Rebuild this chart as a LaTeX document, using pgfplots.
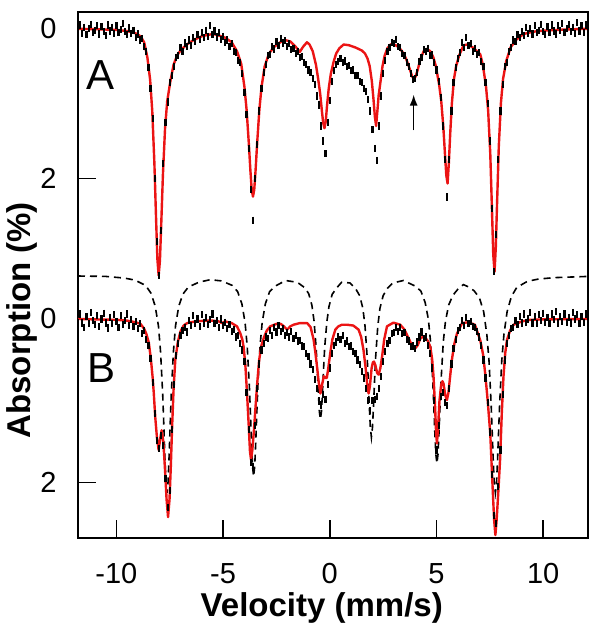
\documentclass[border=0pt]{standalone}
\usepackage{pgfplots}
\pgfplotsset{compat=1.18}
\usepackage{pgfplotstable}
\usepackage{fontspec}
\setmainfont{Liberation Sans}
\usetikzlibrary{arrows.meta}

% ---------- spectrum A : fit (red) ----------
\pgfplotstableread{
v a
-11.8 0.0
-11 0.005
-10 0.015
-9.5 0.03
-9.1 0.06
-8.87 0.1
-8.7 0.18
-8.55 0.38
-8.42 0.68
-8.32 1.1
-8.22 1.8
-8.14 2.55
-8.08 3.08
-8.02 3.3
-7.96 3.1
-7.9 2.62
-7.82 1.95
-7.72 1.33
-7.62 0.97
-7.47 0.7
-7.32 0.48
-7.16 0.36
-7.0 0.29
-6.7 0.21
-6.38 0.15
-6.0 0.1
-5.7 0.08
-5.44 0.07
-5.2 0.09
-4.9 0.12
-4.6 0.18
-4.35 0.3
-4.15 0.47
-4.0 0.78
-3.9 1.08
-3.8 1.51
-3.72 1.90
-3.66 2.15
-3.6 2.245
-3.54 2.15
-3.48 1.90
-3.4 1.51
-3.3 1.08
-3.2 0.78
-3.05 0.5
-2.85 0.33
-2.6 0.24
-2.32 0.18
-2.1 0.15
-1.85 0.17
-1.6 0.24
-1.41 0.31
-1.25 0.24
-1.07 0.18
-0.95 0.21
-0.8 0.3
-0.65 0.48
-0.55 0.66
-0.45 0.87
-0.37 1.10
-0.31 1.26
-0.25 1.33
-0.19 1.24
-0.13 1.03
-0.05 0.8
0.05 0.6
0.18 0.44
0.3 0.33
0.45 0.26
0.65 0.21
0.9 0.22
1.2 0.25
1.5 0.29
1.65 0.33
1.77 0.4
1.87 0.5
1.97 0.7
2.05 0.95
2.11 1.17
2.17 1.3
2.23 1.1
2.29 0.89
2.37 0.72
2.47 0.5
2.57 0.36
2.7 0.26
2.85 0.21
2.95 0.2
3.15 0.23
3.3 0.27
3.46 0.33
3.6 0.42
3.75 0.54
3.85 0.63
3.93 0.67
4.02 0.64
4.12 0.55
4.24 0.41
4.4 0.3
4.55 0.27
4.71 0.3
4.85 0.38
4.97 0.5
5.12 0.74
5.22 0.96
5.32 1.31
5.4 1.69
5.46 1.96
5.52 2.07
5.58 1.79
5.64 1.42
5.72 1.0
5.82 0.67
5.92 0.5
6.07 0.35
6.27 0.22
6.45 0.21
6.7 0.25
6.9 0.3
7.05 0.34
7.17 0.48
7.32 0.77
7.42 1.09
7.52 1.67
7.6 2.42
7.66 3.02
7.72 3.25
7.78 2.92
7.84 2.32
7.92 1.57
8.02 0.99
8.12 0.67
8.27 0.43
8.47 0.25
8.72 0.15
9.08 0.07
9.5 0.04
10 0.025
11 0.01
12.1 0.0
}\Ared

% ---------- spectrum A : data (black) ----------
\pgfplotstableread{
v a
-11.8 0.03
-11.7 -0.05
-11.6 0.06
-11.5 -0.02
-11.4 0.08
-11.3 0.0
-11.2 -0.06
-11.1 0.05
-11.0 0.02
-10.9 -0.04
-10.8 0.07
-10.7 -0.03
-10.6 0.04
-10.5 0.09
-10.4 -0.05
-10.3 0.03
-10.2 -0.02
-10.1 0.06
-10.0 -0.04
-9.9 0.05
-9.8 0.01
-9.7 -0.07
-9.6 0.04
-9.5 0.08
-9.4 -0.01
-9.3 0.06
-9.2 0.02
-9.1 0.12
-9.0 0.07
-8.9 0.15
-8.8 0.13
-8.7 0.24
-8.6 0.3
-8.5 0.52
-8.4 0.8
-8.3 1.2
-8.2 2.0
-8.1 2.85
-8.0 3.3
-7.9 2.7
-7.8 1.8
-7.7 1.25
-7.6 0.98
-7.5 0.72
-7.4 0.62
-7.3 0.5
-7.2 0.38
-7.1 0.36
-7.0 0.25
-6.9 0.3
-6.8 0.19
-6.7 0.24
-6.6 0.15
-6.5 0.22
-6.4 0.12
-6.3 0.17
-6.2 0.08
-6.1 0.14
-6.0 0.05
-5.9 0.12
-5.8 0.02
-5.7 0.1
-5.6 -0.04
-5.5 0.08
-5.4 0.03
-5.3 0.11
-5.2 0.05
-5.1 0.14
-5.0 0.1
-4.9 0.18
-4.8 0.15
-4.7 0.24
-4.6 0.2
-4.5 0.3
-4.4 0.32
-4.3 0.42
-4.2 0.45
-4.1 0.6
-4.0 0.85
-3.9 1.15
-3.8 1.6
-3.7 2.15
-3.6 2.56
-3.5 2.0
-3.4 1.55
-3.3 1.1
-3.2 0.8
-3.1 0.58
-3.0 0.48
-2.9 0.36
-2.8 0.34
-2.7 0.24
-2.6 0.27
-2.5 0.17
-2.4 0.22
-2.3 0.13
-2.2 0.19
-2.1 0.16
-2.0 0.24
-1.9 0.2
-1.8 0.28
-1.7 0.26
-1.6 0.33
-1.5 0.3
-1.4 0.38
-1.3 0.37
-1.2 0.45
-1.1 0.48
-1.0 0.55
-0.9 0.58
-0.8 0.66
-0.7 0.74
-0.6 0.9
-0.5 1.02
-0.4 1.3
-0.3 1.5
-0.2 1.67
-0.1 1.25
0.0 0.96
0.1 0.7
0.2 0.56
0.3 0.48
0.4 0.44
0.5 0.4
0.6 0.45
0.7 0.43
0.8 0.5
0.9 0.49
1.0 0.56
1.1 0.55
1.2 0.62
1.3 0.63
1.4 0.7
1.5 0.72
1.6 0.8
1.7 0.84
1.8 0.95
1.9 1.1
2.0 1.35
2.1 1.6
2.2 1.76
2.3 1.3
2.4 0.9
2.5 0.6
2.6 0.42
2.7 0.3
2.8 0.25
2.9 0.18
3.0 0.2
3.1 0.14
3.2 0.24
3.3 0.25
3.4 0.33
3.5 0.36
3.6 0.45
3.7 0.5
3.8 0.6
3.9 0.68
4.0 0.66
4.1 0.58
4.2 0.44
4.3 0.38
4.4 0.28
4.5 0.3
4.6 0.26
4.7 0.36
4.8 0.35
4.9 0.45
5.0 0.55
5.1 0.7
5.2 0.92
5.3 1.3
5.4 1.75
5.5 2.25
5.6 1.75
5.7 1.1
5.8 0.72
5.9 0.52
6.0 0.4
6.1 0.32
6.2 0.18
6.3 0.25
6.4 0.12
6.5 0.22
6.6 0.2
6.7 0.3
6.8 0.26
6.9 0.34
7.0 0.32
7.1 0.44
7.2 0.5
7.3 0.72
7.4 1.0
7.5 1.5
7.6 2.4
7.7 3.25
7.8 2.75
7.9 1.75
8.0 1.1
8.1 0.75
8.2 0.5
8.3 0.45
8.4 0.3
8.5 0.25
8.6 0.15
8.7 0.17
8.8 0.08
8.9 0.12
9.0 0.04
9.1 0.09
9.2 -0.02
9.3 0.06
9.4 0.0
9.5 0.07
9.6 -0.04
9.7 0.05
9.8 0.02
9.9 -0.06
10.0 0.04
10.1 0.08
10.2 -0.03
10.3 0.05
10.4 -0.05
10.5 0.03
10.6 0.07
10.7 -0.04
10.8 0.02
10.9 -0.07
11.0 0.05
11.1 0.0
11.2 -0.06
11.3 0.04
11.4 -0.02
11.5 0.06
11.6 -0.08
11.7 0.03
11.8 -0.04
11.9 0.05
12.0 -0.05
12.1 0.02
}\Ablack

% ---------- spectrum B : fit (red) ----------
\pgfplotstableread{
v b
-11.8 0.0
-11 0.005
-10 0.01
-9.5 0.02
-9.1 0.04
-8.87 0.06
-8.7 0.12
-8.6 0.18
-8.48 0.29
-8.38 0.5
-8.3 0.72
-8.25 0.9
-8.18 1.2
-8.1 1.45
-8.02 1.6
-7.94 1.45
-7.88 1.36
-7.8 1.5
-7.72 1.85
-7.65 2.2
-7.58 2.42
-7.51 2.2
-7.45 1.8
-7.39 1.32
-7.32 0.85
-7.24 0.5
-7.12 0.28
-7.0 0.155
-6.85 0.08
-6.68 0.05
-6.3 0.03
-5.8 0.02
-5.5 0.02
-5.2 0.03
-5.05 0.05
-4.9 0.03
-4.6 0.05
-4.35 0.09
-4.2 0.17
-4.1 0.25
-4.04 0.34
-3.96 0.55
-3.88 0.9
-3.8 1.3
-3.74 1.62
-3.69 1.72
-3.63 1.6
-3.56 1.38
-3.49 1.11
-3.4 0.78
-3.31 0.5
-3.2 0.32
-3.08 0.22
-2.95 0.14
-2.79 0.09
-2.5 0.06
-2.3 0.06
-2.15 0.09
-2.0 0.13
-1.85 0.09
-1.7 0.07
-1.4 0.05
-1.06 0.05
-0.9 0.1
-0.76 0.25
-0.68 0.4
-0.6 0.58
-0.52 0.77
-0.44 0.91
-0.36 0.8
-0.28 0.7
-0.2 0.72
-0.14 0.72
-0.07 0.6
0.02 0.42
0.12 0.25
0.26 0.13
0.4 0.09
0.57 0.07
0.8 0.07
1.1 0.08
1.35 0.13
1.47 0.22
1.58 0.38
1.68 0.6
1.76 0.82
1.82 0.91
1.88 0.82
1.96 0.6
2.02 0.53
2.07 0.52
2.14 0.57
2.22 0.66
2.29 0.68
2.37 0.6
2.45 0.46
2.55 0.25
2.68 0.09
2.98 0.045
3.3 0.07
3.5 0.13
3.7 0.24
3.85 0.32
4.0 0.36
4.12 0.32
4.24 0.24
4.35 0.22
4.47 0.23
4.6 0.27
4.71 0.34
4.8 0.5
4.86 0.7
4.93 1.05
4.98 1.38
5.02 1.52
5.07 1.35
5.14 1.0
5.22 0.8
5.28 0.76
5.33 0.79
5.41 0.93
5.49 0.99
5.56 0.9
5.64 0.7
5.72 0.5
5.84 0.3
5.96 0.18
6.2 0.05
6.5 0.04
6.8 0.07
7.05 0.26
7.18 0.43
7.28 0.66
7.4 1.0
7.52 1.4
7.62 2.0
7.7 2.45
7.76 2.64
7.82 2.45
7.9 2.1
7.98 1.72
8.06 1.15
8.14 0.7
8.22 0.42
8.3 0.26
8.45 0.14
8.61 0.07
9.0 0.03
9.4 0.01
10 0.005
12.1 0.0
}\Bred

% ---------- spectrum B : data (black) ----------
\pgfplotstableread{
v b
-11.8 0.04
-11.7 -0.06
-11.6 0.05
-11.5 0.1
-11.4 -0.03
-11.3 0.06
-11.2 -0.08
-11.1 0.02
-11.0 0.07
-10.9 -0.04
-10.8 0.09
-10.7 0.0
-10.6 -0.07
-10.5 0.05
-10.4 0.11
-10.3 -0.02
-10.2 0.06
-10.1 -0.05
-10.0 0.03
-9.9 0.1
-9.8 -0.04
-9.7 0.07
-9.6 0.02
-9.5 -0.06
-9.4 0.08
-9.3 0.01
-9.2 0.09
-9.1 0.03
-9.0 0.12
-8.9 0.06
-8.8 0.18
-8.7 0.14
-8.6 0.25
-8.5 0.32
-8.4 0.48
-8.3 0.78
-8.2 1.15
-8.1 1.48
-8.0 1.58
-7.9 1.42
-7.8 1.55
-7.7 1.95
-7.6 2.3
-7.5 2.1
-7.4 1.35
-7.3 0.8
-7.2 0.45
-7.1 0.3
-7.0 0.2
-6.9 0.14
-6.8 0.1
-6.7 0.16
-6.6 0.02
-6.5 0.08
-6.4 -0.04
-6.3 0.06
-6.2 0.0
-6.1 0.09
-6.0 -0.05
-5.9 0.05
-5.8 -0.02
-5.7 0.07
-5.6 0.01
-5.5 -0.06
-5.4 0.06
-5.3 0.02
-5.2 0.1
-5.1 0.0
-5.0 0.08
-4.9 0.04
-4.8 0.12
-4.7 0.07
-4.6 0.15
-4.5 0.13
-4.4 0.22
-4.3 0.2
-4.2 0.3
-4.1 0.38
-4.0 0.52
-3.9 0.9
-3.8 1.35
-3.7 1.75
-3.6 1.8
-3.5 1.3
-3.4 0.85
-3.3 0.55
-3.2 0.38
-3.1 0.3
-3.0 0.22
-2.9 0.24
-2.8 0.14
-2.7 0.2
-2.6 0.1
-2.5 0.16
-2.4 0.08
-2.3 0.15
-2.2 0.12
-2.1 0.2
-2.0 0.17
-1.9 0.22
-1.8 0.15
-1.7 0.24
-1.6 0.2
-1.5 0.27
-1.4 0.26
-1.3 0.33
-1.2 0.34
-1.1 0.42
-1.0 0.46
-0.9 0.55
-0.8 0.62
-0.7 0.74
-0.6 0.85
-0.5 1.0
-0.4 1.05
-0.3 0.92
-0.2 0.98
-0.1 0.8
0.0 0.6
0.1 0.42
0.2 0.32
0.3 0.28
0.4 0.22
0.5 0.25
0.6 0.2
0.7 0.3
0.8 0.27
0.9 0.34
1.0 0.33
1.1 0.4
1.2 0.42
1.3 0.5
1.4 0.56
1.5 0.64
1.6 0.72
1.7 0.85
1.8 1.0
1.9 1.12
2.0 1.0
2.1 0.98
2.2 0.95
2.3 0.85
2.4 0.7
2.5 0.52
2.6 0.4
2.7 0.3
2.8 0.26
2.9 0.18
3.0 0.17
3.1 0.1
3.2 0.15
3.3 0.1
3.4 0.18
3.5 0.17
3.6 0.25
3.7 0.27
3.8 0.34
3.9 0.33
4.0 0.36
4.1 0.28
4.2 0.22
4.3 0.16
4.4 0.24
4.5 0.22
4.6 0.32
4.7 0.42
4.8 0.6
4.9 1.0
5.0 1.6
5.1 1.3
5.2 0.95
5.3 0.9
5.4 1.02
5.5 1.06
5.6 0.85
5.7 0.55
5.8 0.36
5.9 0.25
6.0 0.14
6.1 0.1
6.2 0.02
6.3 0.08
6.4 -0.02
6.5 0.06
6.6 0.03
6.7 0.09
6.8 0.1
6.9 0.15
7.0 0.22
7.1 0.32
7.2 0.5
7.3 0.72
7.4 1.02
7.5 1.38
7.6 1.9
7.7 2.4
7.8 2.5
7.9 2.05
8.0 1.6
8.1 0.92
8.2 0.5
8.3 0.3
8.4 0.2
8.5 0.12
8.6 0.1
8.7 0.02
8.8 0.07
8.9 -0.03
9.0 0.05
9.1 -0.06
9.2 0.04
9.3 0.0
9.4 -0.08
9.5 0.05
9.6 -0.03
9.7 0.06
9.8 -0.05
9.9 0.02
10.0 -0.07
10.1 0.04
10.2 -0.02
10.3 0.06
10.4 -0.06
10.5 0.01
10.6 -0.09
10.7 0.05
10.8 -0.03
10.9 0.03
11.0 -0.06
11.1 0.04
11.2 -0.02
11.3 0.05
11.4 -0.08
11.5 0.0
11.6 -0.05
11.7 0.06
11.8 -0.03
11.9 0.04
12.0 -0.06
12.1 0.02
}\Bblack

% ---------- spectrum B : sub-spectrum (dashed), B units ----------
\pgfplotstableread{
v b
-11.8 -0.525
-10.5 -0.52
-9.63 -0.5
-9.13 -0.475
-8.63 -0.41
-8.38 -0.315
-8.18 -0.155
-8.03 0.085
-7.93 0.405
-7.83 0.925
-7.78 1.285
-7.73 1.675
-7.68 1.995
-7.63 2.125
-7.58 1.995
-7.53 1.675
-7.48 1.285
-7.43 0.925
-7.33 0.405
-7.23 0.085
-7.08 -0.155
-6.88 -0.305
-6.63 -0.39
-6.13 -0.45
-5.6 -0.48
-5.07 -0.465
-4.57 -0.41
-4.32 -0.335
-4.12 -0.185
-3.97 0.045
-3.87 0.335
-3.77 0.815
-3.72 1.145
-3.67 1.505
-3.62 1.805
-3.57 1.925
-3.52 1.805
-3.47 1.505
-3.42 1.145
-3.37 0.815
-3.27 0.335
-3.17 0.045
-3.02 -0.185
-2.82 -0.335
-2.57 -0.40
-2.07 -0.47
-1.57 -0.45
-1.44 -0.433
-1.19 -0.385
-0.99 -0.31
-0.84 -0.17
-0.74 0.02
-0.64 0.35
-0.59 0.6
-0.54 0.88
-0.49 1.13
-0.44 1.225
-0.39 1.13
-0.34 0.88
-0.29 0.6
-0.24 0.35
-0.14 0.04
-0.04 -0.15
0.11 -0.30
0.31 -0.376
0.56 -0.45
0.95 -0.44
1.2 -0.375
1.4 -0.285
1.55 -0.13
1.65 0.085
1.75 0.46
1.8 0.735
1.85 1.055
1.9 1.325
1.95 1.445
2.0 1.325
2.05 1.055
2.1 0.735
2.15 0.46
2.25 0.085
2.35 -0.13
2.5 -0.285
2.7 -0.375
2.95 -0.44
3.45 -0.47
4.02 -0.40
4.27 -0.34
4.47 -0.2
4.62 0.005
4.72 0.275
4.82 0.725
4.87 1.035
4.92 1.375
4.97 1.655
5.02 1.765
5.07 1.655
5.12 1.375
5.17 1.035
5.22 0.725
5.32 0.275
5.42 0.03
5.57 -0.17
5.77 -0.29
6.02 -0.37
6.26 -0.42
6.52 -0.39
6.76 -0.345
7.01 -0.26
7.21 -0.09
7.36 0.19
7.46 0.505
7.56 1.035
7.61 1.375
7.66 1.735
7.71 2.015
7.76 2.125
7.81 2.015
7.86 1.735
7.91 1.375
7.96 1.035
8.06 0.505
8.16 0.19
8.31 -0.09
8.51 -0.275
8.76 -0.385
9.26 -0.46
9.76 -0.487
10.5 -0.505
12.1 -0.52
}\Bsub

\definecolor{fitred}{RGB}{235,20,20}

\begin{document}
\begin{tikzpicture}
\useasboundingbox (-78pt,-94pt) rectangle (524pt,538pt);
\begin{axis}[
  at={(0pt,0pt)}, anchor=south west,
  scale only axis, width=510pt, height=526pt,
  xmin=-11.8, xmax=12.1,
  ymin=-0.2247, ymax=6.812, y dir=reverse,
  xtick={-10,-5,0,5,10}, xticklabels={-10,-5,0,5,10},
  ytick={0,2,3.882,6.072}, yticklabels={0,2,0,2},
  xtick pos=bottom, ytick pos=left,
  tick align=inside, major tick length=18pt,
  axis line style={line width=1.5pt},
  every tick/.style={line width=1.5pt, black},
  ticklabel style={font=\fontsize{29}{29}\selectfont},
  xticklabel style={yshift=-24pt, inner sep=1pt},
  yticklabel style={xshift=-18pt},
  xlabel={Velocity (mm/s)},
  ylabel={Absorption (\%)},
  label style={font=\bfseries\fontsize{33}{33}\selectfont},
  xlabel style={at={(axis description cs:0.478,-0.133)}, anchor=center, inner sep=1pt},
  ylabel style={at={(axis description cs:-0.11,0.414)}, anchor=center},
  clip=true,
]
% dashed sub-spectrum (B scale, offset)
\addplot[black, line width=1.6pt, dash pattern=on 7pt off 5pt]
  table[x=v, y expr=3.882+1.095*\thisrow{b}] {\Bsub};
% data A
\addplot[only marks, mark=|, mark size=3.6pt, mark options={line width=2.2pt, black}]
  table[x=v, y=a] {\Ablack};
% data B
\addplot[only marks, mark=|, mark size=3.6pt, mark options={line width=2.2pt, black}]
  table[x=v, y expr=3.882+1.095*\thisrow{b}] {\Bblack};
% fits
\addplot[fitred, line width=2.4pt, line join=round] table[x=v, y=a] {\Ared};
\addplot[fitred, line width=2.4pt, line join=round]
  table[x=v, y expr=3.882+1.095*\thisrow{b}] {\Bred};
% panel letters and arrow
\node[font=\fontsize{42}{42}\selectfont] at (axis cs:-10.75,0.62) {A};
\node[font=\fontsize{42}{42}\selectfont] at (axis cs:-10.7,4.54) {B};
\draw[line width=1.6pt, -{Latex[length=11pt,width=8pt]}]
  (axis cs:3.93,1.36) -- (axis cs:3.93,0.88);
\end{axis}
\end{tikzpicture}
\end{document}
